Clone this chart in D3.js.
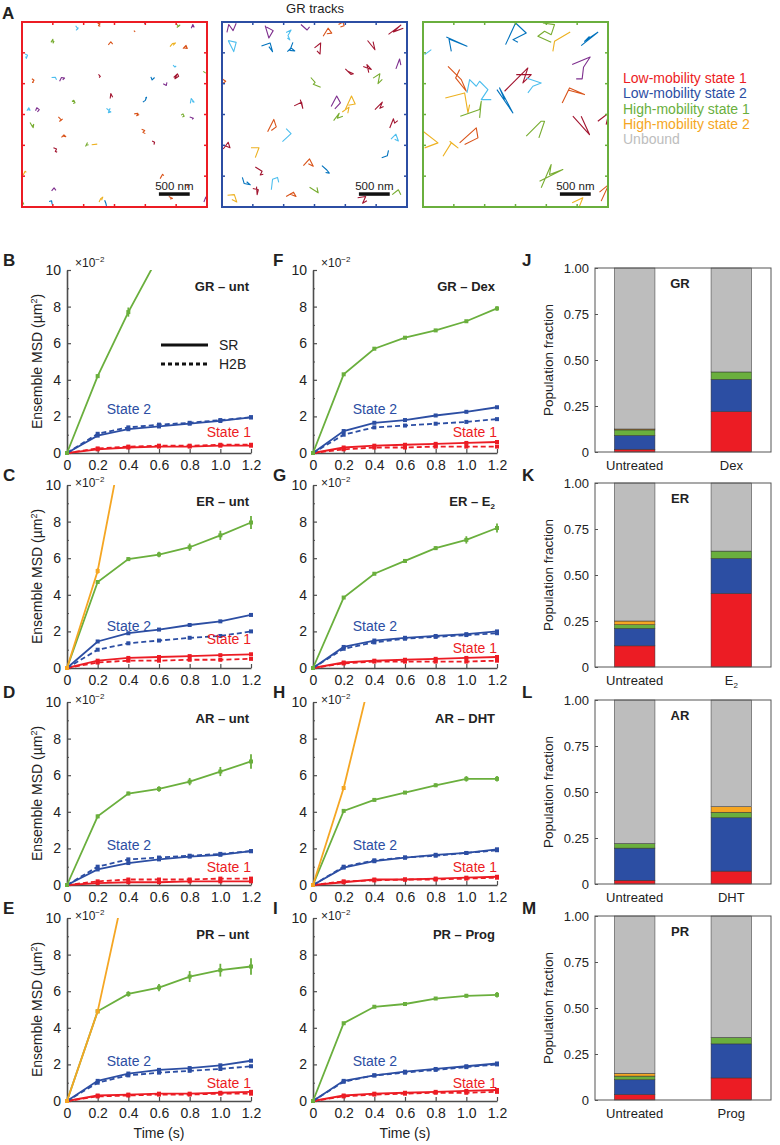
<!DOCTYPE html>
<html>
<head>
<meta charset="utf-8">
<script src="https://cdnjs.cloudflare.com/ajax/libs/d3/7.8.5/d3.min.js"></script>
<title>SR mobility states</title>
<style>
    html, body { margin: 0; background: #fff; }
    svg { display: block; font-family: "Liberation Sans", Arial, sans-serif; }
</style>
</head>
<body>
<svg width="780" height="1145"></svg>
<script>

// ---------- data ----------
var times = [0, 0.2, 0.4, 0.6, 0.8, 1.0, 1.2];
var msdTicks = [0, 2, 4, 6, 8, 10];
var msdMinor = [1, 3, 5, 7, 9];
var fracTicks = [0, 0.25, 0.5, 0.75, 1];
var stateNames = ["Low-mobility state 1", "Low-mobility state 2", "High-mobility state 1", "High-mobility state 2", "Unbound"];

// ensemble MSD, units of 1e-2 um^2
var grUnt = {
    title: ["GR – unt", ""],
    lm1SR:  [0, 0.20, 0.30, 0.35, 0.35, 0.40, 0.40],
    lm1H2B: [0, 0.25, 0.35, 0.40, 0.40, 0.45, 0.45],
    lm2SR:  [0, 0.95, 1.30, 1.45, 1.60, 1.75, 1.95],
    lm2H2B: [0, 1.05, 1.40, 1.55, 1.65, 1.80, 1.95],
    hm1:    [0, 4.2, 7.7, 10.8],
    hm1Err: [0, 0.1, 0.25, 0],
    hm2: [], hm2Err: []
};
var grDex = {
    title: ["GR – Dex", ""],
    lm1SR:  [0, 0.30, 0.40, 0.45, 0.50, 0.55, 0.60],
    lm1H2B: [0, 0.20, 0.30, 0.30, 0.35, 0.35, 0.35],
    lm2SR:  [0, 1.20, 1.65, 1.80, 2.05, 2.25, 2.50],
    lm2H2B: [0, 1.00, 1.40, 1.50, 1.60, 1.70, 1.85],
    hm1:    [0, 4.3, 5.7, 6.3, 6.7, 7.2, 7.9],
    hm1Err: [0, 0.05, 0.05, 0.05, 0.05, 0.05, 0.12],
    hm2: [], hm2Err: []
};
var erUnt = {
    title: ["ER – unt", ""],
    lm1SR:  [0, 0.40, 0.55, 0.60, 0.65, 0.70, 0.75],
    lm1H2B: [0, 0.30, 0.40, 0.40, 0.45, 0.45, 0.50],
    lm2SR:  [0, 1.45, 1.90, 2.10, 2.35, 2.55, 2.90],
    lm2H2B: [0, 1.00, 1.35, 1.50, 1.65, 1.75, 2.00],
    hm1:    [0, 4.7, 5.95, 6.2, 6.6, 7.25, 7.95],
    hm1Err: [0, 0.1, 0.1, 0.15, 0.2, 0.25, 0.35],
    hm2:    [0, 5.3, 14.0],
    hm2Err: [0, 0.15, 0]
};
var erE2 = {
    title: ["ER – E", "2"],
    lm1SR:  [0, 0.30, 0.40, 0.45, 0.50, 0.55, 0.60],
    lm1H2B: [0, 0.25, 0.35, 0.35, 0.35, 0.35, 0.40],
    lm2SR:  [0, 1.15, 1.50, 1.65, 1.75, 1.85, 2.00],
    lm2H2B: [0, 1.05, 1.40, 1.60, 1.70, 1.80, 1.90],
    hm1:    [0, 3.85, 5.15, 5.85, 6.55, 7.0, 7.65],
    hm1Err: [0, 0.05, 0.05, 0.1, 0.1, 0.2, 0.25],
    hm2: [], hm2Err: []
};
var arUnt = {
    title: ["AR – unt", ""],
    lm1SR:  [0, 0.10, 0.15, 0.15, 0.20, 0.20, 0.20],
    lm1H2B: [0, 0.20, 0.30, 0.30, 0.30, 0.35, 0.35],
    lm2SR:  [0, 0.85, 1.20, 1.40, 1.55, 1.65, 1.85],
    lm2H2B: [0, 1.00, 1.40, 1.50, 1.60, 1.70, 1.85],
    hm1:    [0, 3.75, 5.0, 5.25, 5.65, 6.2, 6.75],
    hm1Err: [0, 0.1, 0.1, 0.15, 0.2, 0.25, 0.4],
    hm2: [], hm2Err: []
};
var arDht = {
    title: ["AR – DHT", ""],
    lm1SR:  [0, 0.15, 0.30, 0.30, 0.35, 0.40, 0.45],
    lm1H2B: [0, 0.20, 0.25, 0.30, 0.30, 0.35, 0.40],
    lm2SR:  [0, 0.95, 1.30, 1.50, 1.65, 1.75, 1.95],
    lm2H2B: [0, 1.00, 1.35, 1.50, 1.60, 1.75, 1.90],
    hm1:    [0, 4.05, 4.65, 5.05, 5.45, 5.8, 5.8],
    hm1Err: [0, 0.05, 0.05, 0.05, 0.1, 0.15, 0.15],
    hm2:    [0, 5.3, 12.2],
    hm2Err: [0, 0.1, 0]
};
var prUnt = {
    title: ["PR – unt", ""],
    lm1SR:  [0, 0.30, 0.35, 0.40, 0.40, 0.45, 0.50],
    lm1H2B: [0, 0.25, 0.30, 0.35, 0.35, 0.40, 0.40],
    lm2SR:  [0, 1.10, 1.50, 1.70, 1.80, 1.95, 2.20],
    lm2H2B: [0, 1.00, 1.40, 1.55, 1.65, 1.75, 1.90],
    hm1:    [0, 4.9, 5.85, 6.2, 6.8, 7.15, 7.35],
    hm1Err: [0, 0.1, 0.15, 0.2, 0.3, 0.35, 0.45],
    hm2:    [0, 4.9, 12.6],
    hm2Err: [0, 0.1, 0]
};
var prProg = {
    title: ["PR – Prog", ""],
    lm1SR:  [0, 0.30, 0.40, 0.45, 0.50, 0.55, 0.60],
    lm1H2B: [0, 0.25, 0.35, 0.40, 0.45, 0.45, 0.50],
    lm2SR:  [0, 1.10, 1.40, 1.60, 1.75, 1.90, 2.05],
    lm2H2B: [0, 1.05, 1.40, 1.55, 1.70, 1.85, 2.00],
    hm1:    [0, 4.25, 5.15, 5.3, 5.6, 5.75, 5.8],
    hm1Err: [0, 0.05, 0.05, 0.05, 0.05, 0.1, 0.15],
    hm2: [], hm2Err: []
};

// population fractions
var grFrac = { cats: ["Untreated", "Dex"],  lm1: [0.015, 0.22], lm2: [0.075, 0.175], hm1: [0.03, 0.04],  hm2: [0.005, 0],    unbound: [0.875, 0.565] };
var erFrac = { cats: ["Untreated", "E2"],   lm1: [0.115, 0.40], lm2: [0.095, 0.19],  hm1: [0.02, 0.04],  hm2: [0.02, 0],     unbound: [0.75, 0.37] };
var arFrac = { cats: ["Untreated", "DHT"],  lm1: [0.02, 0.07],  lm2: [0.175, 0.29],  hm1: [0.025, 0.03], hm2: [0, 0.03],     unbound: [0.78, 0.58] };
var prFrac = { cats: ["Untreated", "Prog"], lm1: [0.03, 0.12],  lm2: [0.08, 0.185],  hm1: [0.02, 0.035], hm2: [0.015, 0],    unbound: [0.855, 0.66] };

// GR tracks (nm), [colour id, points]
var tracksLm1 = [
    [5, [[870,60],[905,110],[880,130],[915,90]]],
    [1, [[1225,20],[1265,30],[1240,60],[1270,70]]],
    [1, [[1815,140],[1835,160]]],
    [0, [[1980,0],[1995,30]]],
    [4, [[2500,30],[2540,70],[2560,50],[2510,90]]],
    [3, [[2745,100],[2770,40],[2790,80],[2760,70]]],
    [4, [[470,330],[500,280],[505,340],[520,310]]],
    [1, [[1400,370],[1440,320],[1470,360]]],
    [2, [[2400,400],[2440,350],[2490,340],[2450,380]]],
    [1, [[2610,430],[2660,380],[2680,430],[2630,420]]],
    [5, [[50,520],[90,540],[70,590],[60,560]]],
    [1, [[160,920],[195,945],[170,980],[190,975]]],
    [5, [[480,900],[540,895],[560,935]]],
    [3, [[610,960],[640,900],[690,910],[660,940]]],
    [6, [[1240,850],[1270,880],[1250,900]]],
    [0, [[2090,890],[2110,940],[2150,900]]],
    [3, [[2290,1000],[2340,1030],[2350,980]]],
    [6, [[2460,900],[2520,840],[2540,880],[2480,920],[2510,860]]],
    [5, [[2450,700],[2480,730],[2500,710]]],
    [4, [[2940,800],[2980,830]]],
    [4, [[810,1290],[840,1270],[860,1310],[830,1320]]],
    [6, [[1430,1240],[1440,1160],[1470,1220]]],
    [0, [[1960,1300],[2000,1270],[2020,1220],[2000,1240]]],
    [5, [[2730,1320],[2745,1240],[2790,1300],[2760,1290]]],
    [5, [[80,1440],[110,1390],[130,1430],[90,1420]]],
    [3, [[220,1440],[240,1390],[280,1420],[250,1460]]],
    [5, [[1370,1400],[1440,1460],[1400,1470],[1430,1400]]],
    [1, [[1820,1490],[1880,1480],[1860,1520],[1900,1500]]],
    [4, [[2580,1510],[2610,1490],[2630,1530],[2600,1540]]],
    [3, [[2720,1540],[2780,1560],[2760,1580]]],
    [4, [[130,1630],[170,1700],[190,1660],[180,1720]]],
    [1, [[590,1540],[640,1590],[610,1610],[660,1570]]],
    [1, [[1940,1740],[1990,1760],[1960,1790],[2000,1810]]],
    [1, [[640,1870],[680,1830],[710,1860],[660,1850]]],
    [6, [[2110,1930],[2150,1950],[2140,1990]]],
    [6, [[510,2040],[560,2060],[540,2100],[570,2110]]],
    [4, [[1030,2020],[1060,1960],[1040,2000],[1080,1990]]],
    [2, [[1130,1990],[1220,1980]]],
    [2, [[20,2480],[50,2420],[70,2440]]],
    [1, [[2240,2540],[2280,2470],[2300,2490]]],
    [1, [[2650,2640],[2700,2650],[2680,2690]]],
    [3, [[480,2740],[520,2690],[550,2730]]],
    [0, [[440,2910],[480,2900],[490,2960]]],
    [2, [[1250,2920],[1280,2860],[1310,2840],[1290,2890]]],
    [0, [[1340,2890],[1360,2940],[1370,2980]]],
    [1, [[2380,2830],[2440,2860],[2400,2870]]],
    [3, [[2950,2920],[2980,2840],[3000,2890]]],
    [4, [[0,2900],[30,2960]]]
];
var tracksLm2 = [
    [3, [[80,170],[110,40],[180,140],[230,20]]],
    [3, [[700,60],[760,260],[830,140],[720,80]]],
    [5, [[1040,170],[1120,130],[1070,220],[1100,290],[1060,260]]],
    [3, [[1280,40],[1380,130],[1420,80]]],
    [1, [[1640,230],[1720,100],[1780,180],[1700,190]]],
    [1, [[1890,40],[1960,0],[1980,60],[1920,80]]],
    [6, [[2700,200],[2900,50],[2780,160],[2940,100]]],
    [5, [[100,300],[230,330],[190,480],[100,300]]],
    [0, [[640,390],[780,340],[820,480],[760,400]]],
    [0, [[1060,480],[1120,420],[1180,470],[1100,460],[1150,330]]],
    [6, [[1500,420],[1600,340],[1590,520],[1540,470]]],
    [6, [[2360,300],[2480,450],[2450,320]]],
    [3, [[2820,760],[2880,600],[2900,700]]],
    [6, [[2000,760],[2090,850],[2130,840],[2040,800]]],
    [6, [[2290,720],[2420,770],[2350,690],[2380,820]]],
    [4, [[1440,900],[1510,980],[1480,1010],[1600,1060]]],
    [4, [[2450,910],[2560,840],[2530,1000],[2600,930]]],
    [1, [[0,920],[60,960],[10,1000]]],
    [6, [[1170,1360],[1290,1300],[1310,1400],[1270,1260]]],
    [3, [[1770,1370],[1860,1200],[1920,1310],[1830,1410]]],
    [2, [[2000,1420],[2100,1200],[2160,1330],[2050,1350]]],
    [2, [[1950,1460],[2060,1380],[2040,1480]]],
    [4, [[1810,1600],[1900,1480],[1870,1560],[1960,1530]]],
    [6, [[2480,1420],[2600,1300],[2560,1400],[2620,1370]]],
    [6, [[2720,1720],[2780,1570],[2800,1640],[2850,1600]]],
    [1, [[740,1780],[840,1580],[880,1700],[800,1760]]],
    [5, [[980,1940],[1120,1810],[1040,1730]]],
    [5, [[2740,1900],[2820,1820],[2860,1930],[2800,1900]]],
    [6, [[20,2060],[100,1950],[130,2040],[60,2010]]],
    [2, [[470,2040],[600,2040],[540,2200]]],
    [0, [[2590,2200],[2680,2170],[2700,2080]]],
    [1, [[1320,2330],[1420,2220],[1480,2340],[1400,2300]]],
    [0, [[1620,2330],[1700,2400],[1740,2450],[1680,2440]]],
    [6, [[540,2350],[650,2420],[620,2480],[670,2470]]],
    [0, [[330,2520],[360,2620],[460,2640],[400,2590]]],
    [5, [[800,2720],[820,2550],[900,2520],[920,2600]]],
    [6, [[500,2700],[590,2720],[570,2800],[560,2670]]],
    [4, [[1420,2680],[1560,2770],[1540,2680]]],
    [2, [[90,2810],[200,2800],[240,2920],[160,2880]]],
    [1, [[1040,2830],[1160,2760],[1200,2830],[1100,2790]]],
    [6, [[2200,2850],[2330,2830],[2280,2940],[2350,2900]]],
    [4, [[2760,2800],[2860,2720],[2900,2800]]]
];
var tracksHm1 = [
    [0, [[378,243],[713,394],[421,275],[459,475]]],
    [0, [[1339,367],[1501,16],[1674,178],[1458,286],[1539,329]]],
    [4, [[1944,16],[2133,43],[2079,205],[1971,151],[1863,232],[2079,329]]],
    [2, [[2106,475],[2133,313],[2387,162]]],
    [0, [[2565,383],[2835,167],[2619,313],[2700,232]]],
    [5, [[27,529],[135,448]]],
    [3, [[2419,691],[2711,567],[2603,734],[2581,923],[2484,923]]],
    [1, [[405,718],[621,934],[702,1123],[529,907],[594,772]]],
    [5, [[713,1150],[756,934],[864,1042],[918,961],[1053,1096],[945,1258],[1107,1258]]],
    [2, [[362,1231],[675,1150],[729,1474],[756,1339]]],
    [4, [[605,1528],[918,1420],[945,1285],[918,1555]]],
    [0, [[1199,1096],[1458,1474],[1242,1069],[1323,1258]]],
    [6, [[1512,853],[1755,853],[1620,988],[1701,745],[1323,1123]]],
    [5, [[1674,907],[1917,988],[1782,1042],[1701,1150]]],
    [1, [[2257,1312],[2376,1069],[2619,1177],[2365,1107]]],
    [6, [[2430,1528],[2700,1825],[2565,1528]]],
    [4, [[1674,1852],[1917,1609],[1971,1609],[1879,1879]]],
    [6, [[2835,1609],[3013,1474],[2970,1663]]],
    [2, [[0,1771],[243,1960],[27,2041]]],
    [2, [[324,2176],[459,1960],[567,2041],[432,1933]]],
    [1, [[594,1960],[864,1717],[891,1879],[675,1987]]],
    [4, [[1890,2581],[2268,2392],[2052,2473],[2079,2311],[1917,2689]]],
    [1, [[2862,2759],[3013,2635],[2889,2905]]],
    [2, [[2419,2932],[2592,2851],[2538,2986]]]
];

// ---------- styles / layout ----------
var stateColors = ["#ec1c24", "#2c4ea3", "#6aaf3d", "#f5a623", "#bdbdbd"];
var trackColors = ["#0072bd", "#d95319", "#edb120", "#7e2f8e", "#77ac30", "#4dbeee", "#a2142f"];
var axisColor = "#4d4d4d";
var textColor = "#222";
var W = 184, H = 183;
var colX = [67, 313];
var rowY = [270, 485, 702, 918];
var state2Y = [2.4, 2.3, 2.2, 2.2];
var state1Y = [[1.15, 1.15], [1.6, 1.1], [1.0, 1.0], [1.0, 1.0]];

var svg = d3.select("svg");

// ---------- panel A ----------
svg.append("text").attr("x", 2).attr("y", 19).attr("font-size", 17).attr("font-weight", "bold")
    .attr("fill", textColor).text("A");
svg.append("text").attr("x", 315).attr("y", 13).attr("text-anchor", "middle").attr("font-size", 13)
    .attr("fill", textColor).text("GR tracks");

function drawTrackBox(tracks, x0, frameColor, id) {
    var size = 185;
    var s = d3.scaleLinear().domain([0, 3000]).range([0, size]);
    var g = svg.append("g").attr("transform", "translate(" + x0 + ",22)");
    g.append("clipPath").attr("id", id).append("rect").attr("width", size).attr("height", size);
    var line = d3.line().x(function(p){ return s(p[0]); }).y(function(p){ return s(p[1]); });
    g.append("g").attr("clip-path", "url(#" + id + ")")
        .selectAll("path").data(tracks).enter().append("path")
        .attr("d", function(d){ return line(d[1]); })
        .attr("fill", "none")
        .attr("stroke", function(d){ return trackColors[d[0]]; })
        .attr("stroke-width", 1.1)
        .attr("stroke-linejoin", "round");
    var tk = [500, 1000, 1500, 2000, 2500];
    var tg = g.append("g").attr("stroke", frameColor).attr("stroke-width", 1.5);
    tk.forEach(function(t) {
        tg.append("line").attr("x1", s(t)).attr("x2", s(t)).attr("y1", 0).attr("y2", 3);
        tg.append("line").attr("x1", s(t)).attr("x2", s(t)).attr("y1", size).attr("y2", size - 3);
        tg.append("line").attr("y1", s(t)).attr("y2", s(t)).attr("x1", 0).attr("x2", 3);
        tg.append("line").attr("y1", s(t)).attr("y2", s(t)).attr("x1", size).attr("x2", size - 3);
    });
    g.append("rect").attr("width", size).attr("height", size).attr("fill", "none")
        .attr("stroke", frameColor).attr("stroke-width", 2);
    g.append("rect").attr("x", s(2220)).attr("y", s(2786) - 1.5).attr("width", s(500)).attr("height", 3.5)
        .attr("fill", "#111");
    g.append("text").attr("x", s(2470)).attr("y", s(2786) - 4).attr("text-anchor", "middle")
        .attr("font-size", 11.5).attr("fill", textColor).text("500 nm");
}
drawTrackBox(tracksLm1, 22, stateColors[0], "clipA1");
drawTrackBox(tracksLm2, 222, stateColors[1], "clipA2");
drawTrackBox(tracksHm1, 423, stateColors[2], "clipA3");

svg.append("g").selectAll("text").data(stateNames).enter().append("text")
    .attr("x", 623)
    .attr("y", function(d, i){ return 78 + i * 15.3; })
    .attr("dy", "0.35em")
    .attr("font-size", 14)
    .attr("fill", function(d, i){ return stateColors[i]; })
    .text(function(d){ return d; });

// ---------- MSD panels ----------
function styleAxis(sel) {
    sel.select(".domain").attr("stroke", axisColor).attr("stroke-width", 1.6);
    sel.selectAll(".tick line").attr("stroke", axisColor).attr("stroke-width", 1.2);
    sel.selectAll(".tick text").attr("fill", textColor).attr("font-size", 14)
        .attr("font-family", "Liberation Sans, Arial, sans-serif");
}

function drawMsd(d, row, col, letter, showLegend) {
    var x0 = colX[col], y0 = rowY[row];
    var x = d3.scaleLinear().domain([0, 1.2]).range([x0, x0 + W]);
    var y = d3.scaleLinear().domain([0, 10]).range([y0 + H, y0]);
    var id = "clip" + letter;
    svg.append("clipPath").attr("id", id).append("rect")
        .attr("x", x0 - 4).attr("y", y0).attr("width", W + 8).attr("height", H + 4);

    // axes
    var ya = svg.append("g").attr("transform", "translate(" + x0 + ",0)")
        .call(d3.axisLeft(y).tickValues(msdTicks).tickSizeInner(-4).tickSizeOuter(0).tickPadding(6));
    styleAxis(ya);
    var ym = svg.append("g").attr("transform", "translate(" + x0 + ",0)")
        .call(d3.axisLeft(y).tickValues(msdMinor).tickSize(-2).tickFormat(""));
    ym.select(".domain").remove();
    ym.selectAll("line").attr("stroke", axisColor);
    var xa = svg.append("g").attr("transform", "translate(0," + (y0 + H) + ")")
        .call(d3.axisBottom(x).tickValues(times).tickSizeInner(-4).tickSizeOuter(0).tickPadding(7)
            .tickFormat(function(t){ return t === 0 ? "0" : d3.format(".1f")(t); }));
    styleAxis(xa);

    var g = svg.append("g").attr("clip-path", "url(#" + id + ")");
    var line = d3.line().x(function(v, i){ return x(times[i]); }).y(function(v){ return y(v); });
    var series = [
        { v: d.lm1H2B, c: stateColors[0], dash: true },
        { v: d.lm1SR,  c: stateColors[0] },
        { v: d.lm2H2B, c: stateColors[1], dash: true },
        { v: d.lm2SR,  c: stateColors[1] },
        { v: d.hm1,    c: stateColors[2], err: d.hm1Err },
        { v: d.hm2,    c: stateColors[3], err: d.hm2Err }
    ];
    series.forEach(function(s) {
        if (!s.v.length) return;
        g.append("path").attr("d", line(s.v)).attr("fill", "none")
            .attr("stroke", s.c).attr("stroke-width", 1.8)
            .attr("stroke-dasharray", s.dash ? "5,3" : null);
        if (s.err) {
            g.selectAll(null).data(s.v).enter().append("line")
                .attr("x1", function(v, i){ return x(times[i]); })
                .attr("x2", function(v, i){ return x(times[i]); })
                .attr("y1", function(v, i){ return y(v - s.err[i]); })
                .attr("y2", function(v, i){ return y(v + s.err[i]); })
                .attr("stroke", s.c).attr("stroke-width", 1.8);
        }
        g.selectAll(null).data(s.v).enter().append("rect")
            .attr("x", function(v, i){ return x(times[i]) - 2; })
            .attr("y", function(v){ return y(v) - 2; })
            .attr("width", 4).attr("height", 4).attr("fill", s.c);
    });

    // labels
    svg.append("text").attr("x", x(0.404)).attr("y", y(state2Y[row])).attr("dy", "0.35em")
        .attr("text-anchor", "middle").attr("font-size", 14).attr("fill", stateColors[1]).text("State 2");
    svg.append("text").attr("x", x(1.2)).attr("y", y(state1Y[row][col])).attr("dy", "0.35em")
        .attr("text-anchor", "end").attr("font-size", 14).attr("fill", stateColors[0]).text("State 1");

    var t = svg.append("text").attr("x", x0 + W - 2).attr("y", y0 + 21).attr("text-anchor", "end")
        .attr("font-size", 13).attr("font-weight", "bold").attr("fill", textColor).text(d.title[0]);
    if (d.title[1]) t.append("tspan").attr("font-size", 8).attr("dy", 3).text(d.title[1]);

    var e = svg.append("text").attr("x", x0 + 8).attr("y", row === 0 ? y0 - 3 : y0 + 2).attr("font-size", 12)
        .attr("fill", textColor).text("×10");
    e.append("tspan").attr("font-size", 8).attr("dy", -5).text("−2");

    svg.append("text").attr("x", col === 0 ? 3 : 273).attr("y", y0 - 4).attr("font-size", 17)
        .attr("font-weight", "bold").attr("fill", textColor).text(letter);

    if (col === 0) {
        var yl = svg.append("text")
            .attr("transform", "translate(42," + (y0 + H / 2) + ") rotate(-90)")
            .attr("text-anchor", "middle").attr("font-size", 14).attr("fill", textColor)
            .text("Ensemble MSD (µm");
        yl.append("tspan").attr("font-size", 9).attr("dy", -5).text("2");
        yl.append("tspan").attr("dy", 5).text(")");
    }
    if (row === 3) {
        svg.append("text").attr("x", x0 + W / 2).attr("y", 1138).attr("text-anchor", "middle")
            .attr("font-size", 14).attr("fill", textColor).text("Time (s)");
    }
    if (showLegend) {
        var lg = svg.append("g");
        lg.append("line").attr("x1", x0 + 94).attr("x2", x0 + 141).attr("y1", y0 + 75).attr("y2", y0 + 75)
            .attr("stroke", "#111").attr("stroke-width", 3);
        lg.append("line").attr("x1", x0 + 94).attr("x2", x0 + 141).attr("y1", y0 + 94).attr("y2", y0 + 94)
            .attr("stroke", "#111").attr("stroke-width", 3).attr("stroke-dasharray", "4,3");
        lg.append("text").attr("x", x0 + 152).attr("y", y0 + 75).attr("dy", "0.35em")
            .attr("font-size", 14).attr("fill", textColor).text("SR");
        lg.append("text").attr("x", x0 + 152).attr("y", y0 + 94).attr("dy", "0.35em")
            .attr("font-size", 14).attr("fill", textColor).text("H2B");
    }
}

// ---------- fraction bars ----------
function drawBars(d, row, letter, label) {
    var x0 = 595, bw = 176, y0 = rowY[row] - 2, h = H + 1;
    var keys = ["lm1", "lm2", "hm1", "hm2", "unbound"];
    var x = d3.scaleBand().domain(d.cats).range([x0, x0 + bw]).paddingInner(0.58).paddingOuter(0.2);
    var y = d3.scaleLinear().domain([0, 1]).range([y0 + h, y0]);
    var rows = d.cats.map(function(c, i) {
        var r = { cat: c };
        keys.forEach(function(k){ r[k] = d[k][i]; });
        return r;
    });
    var stacked = d3.stack().keys(keys)(rows);
    svg.append("g").selectAll("g").data(stacked).enter().append("g")
        .attr("fill", function(s, i){ return stateColors[i]; })
        .selectAll("rect").data(function(s){ return s; }).enter().append("rect")
        .attr("x", function(p){ return x(p.data.cat); })
        .attr("y", function(p){ return y(p[1]); })
        .attr("width", x.bandwidth())
        .attr("height", function(p){ return y(p[0]) - y(p[1]); })
        .attr("stroke", "#333").attr("stroke-width", 0.5);

    svg.append("rect").attr("x", x0).attr("y", y0).attr("width", bw).attr("height", h)
        .attr("fill", "none").attr("stroke", "#555").attr("stroke-width", 1);
    var ya = svg.append("g").attr("transform", "translate(" + x0 + ",0)")
        .call(d3.axisLeft(y).tickValues(fracTicks).tickSizeInner(-3).tickSizeOuter(0).tickPadding(6)
            .tickFormat(function(t){ return t === 0 ? "0" : d3.format(".2f")(t); }));
    ya.select(".domain").remove();
    ya.selectAll(".tick line").attr("stroke", "#555");
    ya.selectAll(".tick text").attr("fill", textColor).attr("font-size", 13)
        .attr("font-family", "Liberation Sans, Arial, sans-serif");

    d.cats.forEach(function(c) {
        var t = svg.append("text").attr("x", x(c) + x.bandwidth() / 2).attr("y", y0 + h + 18)
            .attr("text-anchor", "middle").attr("font-size", 13).attr("fill", textColor);
        if (c === "E2") {
            t.text("E");
            t.append("tspan").attr("font-size", 8).attr("dy", 3).text("2");
        } else {
            t.text(c);
        }
    });
    svg.append("text").attr("x", x0 + bw / 2 - 3).attr("y", y0 + 20)
        .attr("text-anchor", "middle").attr("font-size", 13).attr("font-weight", "bold")
        .attr("fill", textColor).text(label);
    svg.append("text")
        .attr("transform", "translate(553," + (y0 + h / 2) + ") rotate(-90)")
        .attr("text-anchor", "middle").attr("font-size", 13.5).attr("fill", textColor)
        .text("Population fraction");
    svg.append("text").attr("x", 522).attr("y", rowY[row] - 4).attr("font-size", 17)
        .attr("font-weight", "bold").attr("fill", textColor).text(letter);
}

drawMsd(grUnt, 0, 0, "B", true);
drawMsd(erUnt, 1, 0, "C", false);
drawMsd(arUnt, 2, 0, "D", false);
drawMsd(prUnt, 3, 0, "E", false);
drawMsd(grDex, 0, 1, "F", false);
drawMsd(erE2, 1, 1, "G", false);
drawMsd(arDht, 2, 1, "H", false);
drawMsd(prProg, 3, 1, "I", false);

drawBars(grFrac, 0, "J", "GR");
drawBars(erFrac, 1, "K", "ER");
drawBars(arFrac, 2, "L", "AR");
drawBars(prFrac, 3, "M", "PR");

</script>
</body>
</html>
